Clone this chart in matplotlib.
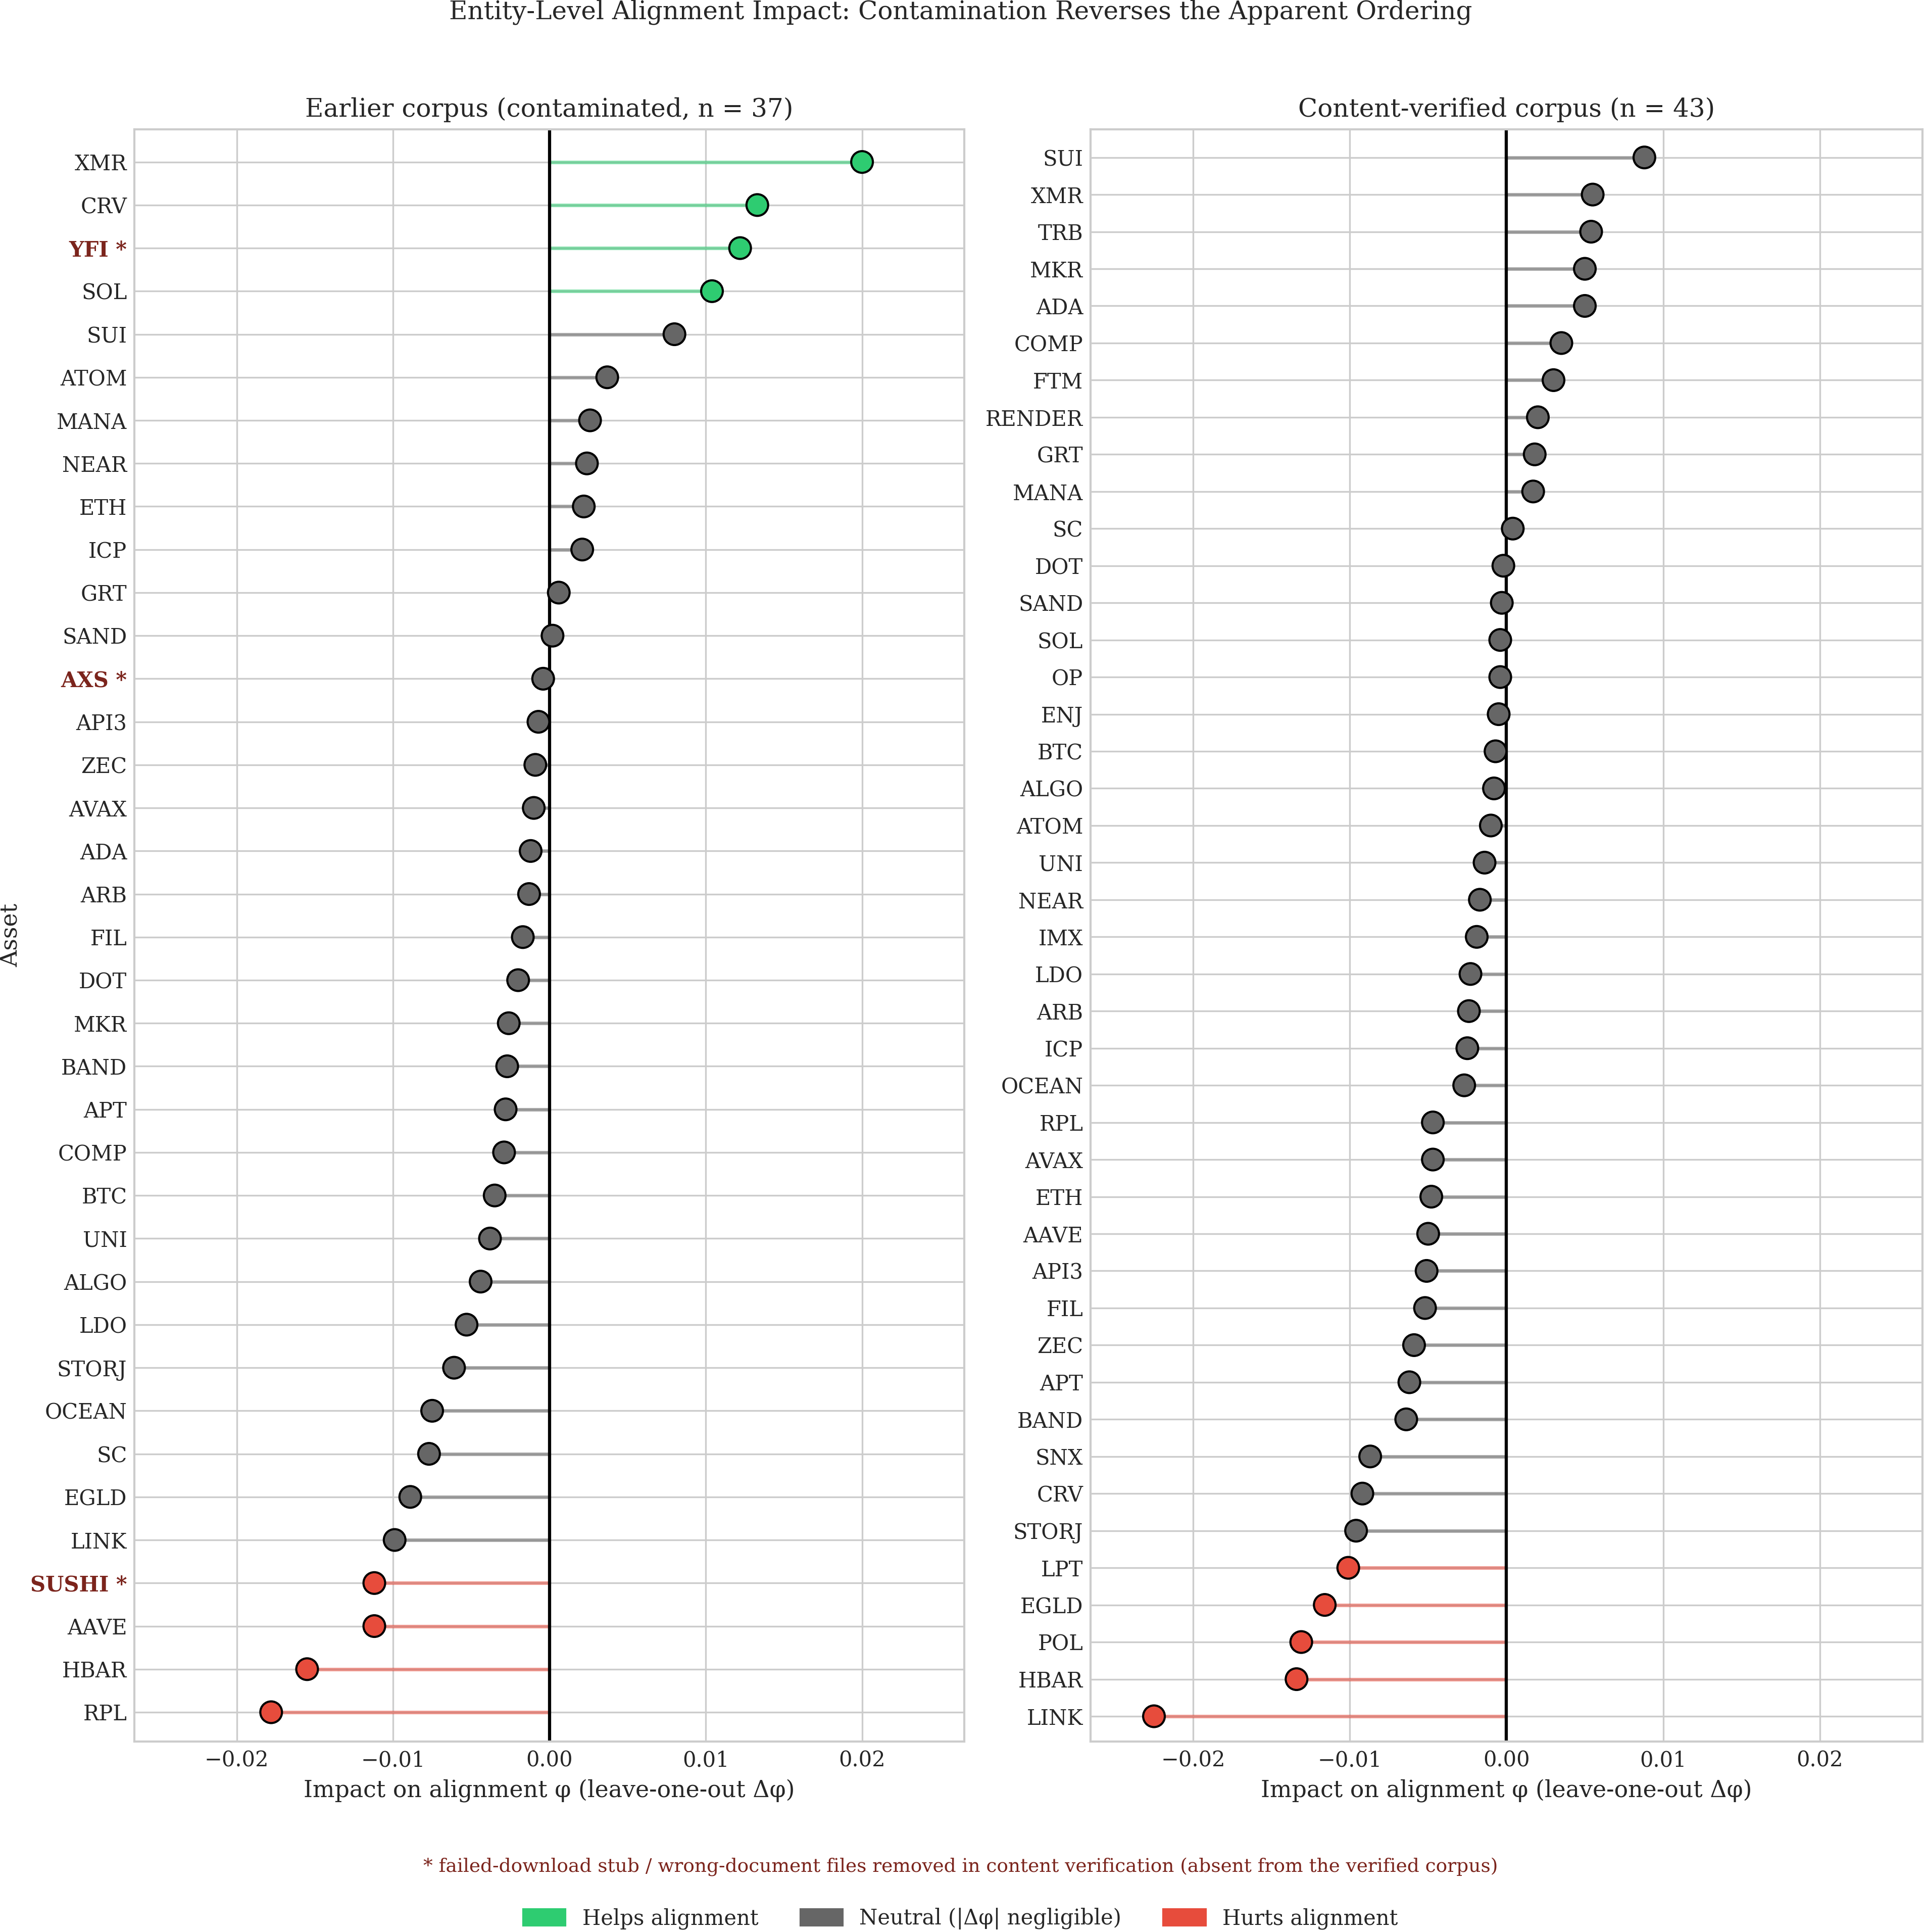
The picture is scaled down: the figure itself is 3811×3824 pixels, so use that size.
import matplotlib
matplotlib.use("Agg")
import matplotlib.pyplot as plt
from matplotlib.patches import Patch
import numpy as np

# Earlier (contaminated) corpus, top to bottom
left_assets = ["XMR", "CRV", "YFI", "SOL", "SUI", "ATOM", "MANA", "NEAR", "ETH", "ICP",
               "GRT", "SAND", "AXS", "API3", "ZEC", "AVAX", "ADA", "ARB", "FIL", "DOT",
               "MKR", "BAND", "APT", "COMP", "BTC", "UNI", "ALGO", "LDO", "STORJ", "OCEAN",
               "SC", "EGLD", "LINK", "SUSHI", "AAVE", "HBAR", "RPL"]
left_delta = [0.0200, 0.0133, 0.0122, 0.0104, 0.0080, 0.0037, 0.0026, 0.0024, 0.0022, 0.0021,
              0.0006, 0.0002, -0.0004, -0.0007, -0.0009, -0.0010, -0.0012, -0.0013, -0.0017, -0.0020,
              -0.0026, -0.0027, -0.0028, -0.0029, -0.0035, -0.0038, -0.0044, -0.0053, -0.0061, -0.0075,
              -0.0077, -0.0089, -0.0099, -0.0112, -0.0112, -0.0155, -0.0178]

# Content-verified corpus, top to bottom
right_assets = ["SUI", "XMR", "TRB", "MKR", "ADA", "COMP", "FTM", "RENDER", "GRT", "MANA",
                "SC", "DOT", "SAND", "SOL", "OP", "ENJ", "BTC", "ALGO", "ATOM", "UNI",
                "NEAR", "IMX", "LDO", "ARB", "ICP", "OCEAN", "RPL", "AVAX", "ETH", "AAVE",
                "API3", "FIL", "ZEC", "APT", "BAND", "SNX", "CRV", "STORJ", "LPT", "EGLD",
                "POL", "HBAR", "LINK"]
right_delta = [0.0088, 0.0055, 0.0054, 0.0050, 0.0050, 0.0035, 0.0030, 0.0020, 0.0018, 0.0017,
               0.0004, -0.0002, -0.0003, -0.0004, -0.0004, -0.0005, -0.0007, -0.0008, -0.0010, -0.0014,
               -0.0017, -0.0019, -0.0023, -0.0024, -0.0025, -0.0027, -0.0047, -0.0047, -0.0048, -0.0050,
               -0.0051, -0.0052, -0.0059, -0.0062, -0.0064, -0.0087, -0.0092, -0.0096, -0.0101, -0.0116,
               -0.0131, -0.0134, -0.0225]

# removed in content verification
flagged = ["YFI", "AXS", "SUSHI"]
threshold = 0.01

C_HELP = "#2ecc71"
C_NEUTRAL = "#666666"
C_HURT = "#e74c3c"
FLAG_COLOR = "#7B241C"
TEXT = "#262626"

plt.rcParams["font.family"] = "DejaVu Serif"
plt.rcParams["text.color"] = TEXT
plt.rcParams["axes.labelcolor"] = TEXT
plt.rcParams["xtick.color"] = TEXT
plt.rcParams["ytick.color"] = TEXT

lim = 1.18 * max(np.abs(left_delta).max(), np.abs(right_delta).max())

fig = plt.figure(figsize=(3811 / 300, 3824 / 300), dpi=300)
ax_l = fig.add_axes([0.0698, 0.0986, 0.4312, 0.8345])
ax_r = fig.add_axes([0.5665, 0.0986, 0.4322, 0.8345])


def colour_for(v):
    if v >= threshold:
        return C_HELP
    if v <= -threshold:
        return C_HURT
    return C_NEUTRAL


def lollipop(ax, assets, delta, title, mark_flags):
    n = len(assets)
    y = np.arange(n)
    cols = [colour_for(v) for v in delta]
    ax.set_axisbelow(True)
    ax.grid(True, color="#cccccc", lw=0.8)
    ax.hlines(y, 0, delta, colors=cols, lw=1.7, alpha=0.55, zorder=2)
    ax.axvline(0, color="black", lw=1.5, zorder=2.5)
    ax.scatter(delta, y, s=10.3 ** 2, c=cols, edgecolors="black", linewidths=1.0, zorder=3)

    labels = [a + " *" if (mark_flags and a in flagged) else a for a in assets]
    ax.set_yticks(y)
    ax.set_yticklabels(labels, fontsize=10)
    if mark_flags:
        for lab, a in zip(ax.get_yticklabels(), assets):
            if a in flagged:
                lab.set_color(FLAG_COLOR)
                lab.set_fontweight("bold")
    ax.set_ylim(n - 0.32, -0.76)
    ax.set_xlim(-lim, lim)
    ax.set_xticks([-0.02, -0.01, 0.0, 0.01, 0.02])
    ax.tick_params(axis="x", labelsize=10, length=0, pad=4)
    ax.tick_params(axis="y", length=0, pad=3.5)
    ax.set_xlabel("Impact on alignment φ (leave-one-out Δφ)", fontsize=11)
    ax.set_title(title, fontsize=12, pad=6)
    for sp in ax.spines.values():
        sp.set_color("#cccccc")
        sp.set_linewidth(1.0)


lollipop(ax_l, left_assets, left_delta, "Earlier corpus (contaminated, n = 37)", True)
lollipop(ax_r, right_assets, right_delta, "Content-verified corpus (n = 43)", False)
ax_l.set_ylabel("Asset", fontsize=11)

fig.text(0.499, 0.9903, "Entity-Level Alignment Impact: Contamination Reverses the Apparent Ordering",
         ha="center", va="baseline", fontsize=12)

fig.text(0.499, 0.0311,
         "* failed-download stub / wrong-document files removed in content verification "
         "(absent from the verified corpus)",
         ha="center", va="baseline", fontsize=9, color=FLAG_COLOR)

handles = [Patch(color=C_HELP, label="Helps alignment"),
           Patch(color=C_NEUTRAL, label="Neutral (|Δφ| negligible)"),
           Patch(color=C_HURT, label="Hurts alignment")]
fig.legend(handles=handles, loc="center", bbox_to_anchor=(0.499, 0.0068), ncol=3,
           frameon=False, fontsize=10, handleheight=0.8)

fig.savefig("out.png", dpi=300)
